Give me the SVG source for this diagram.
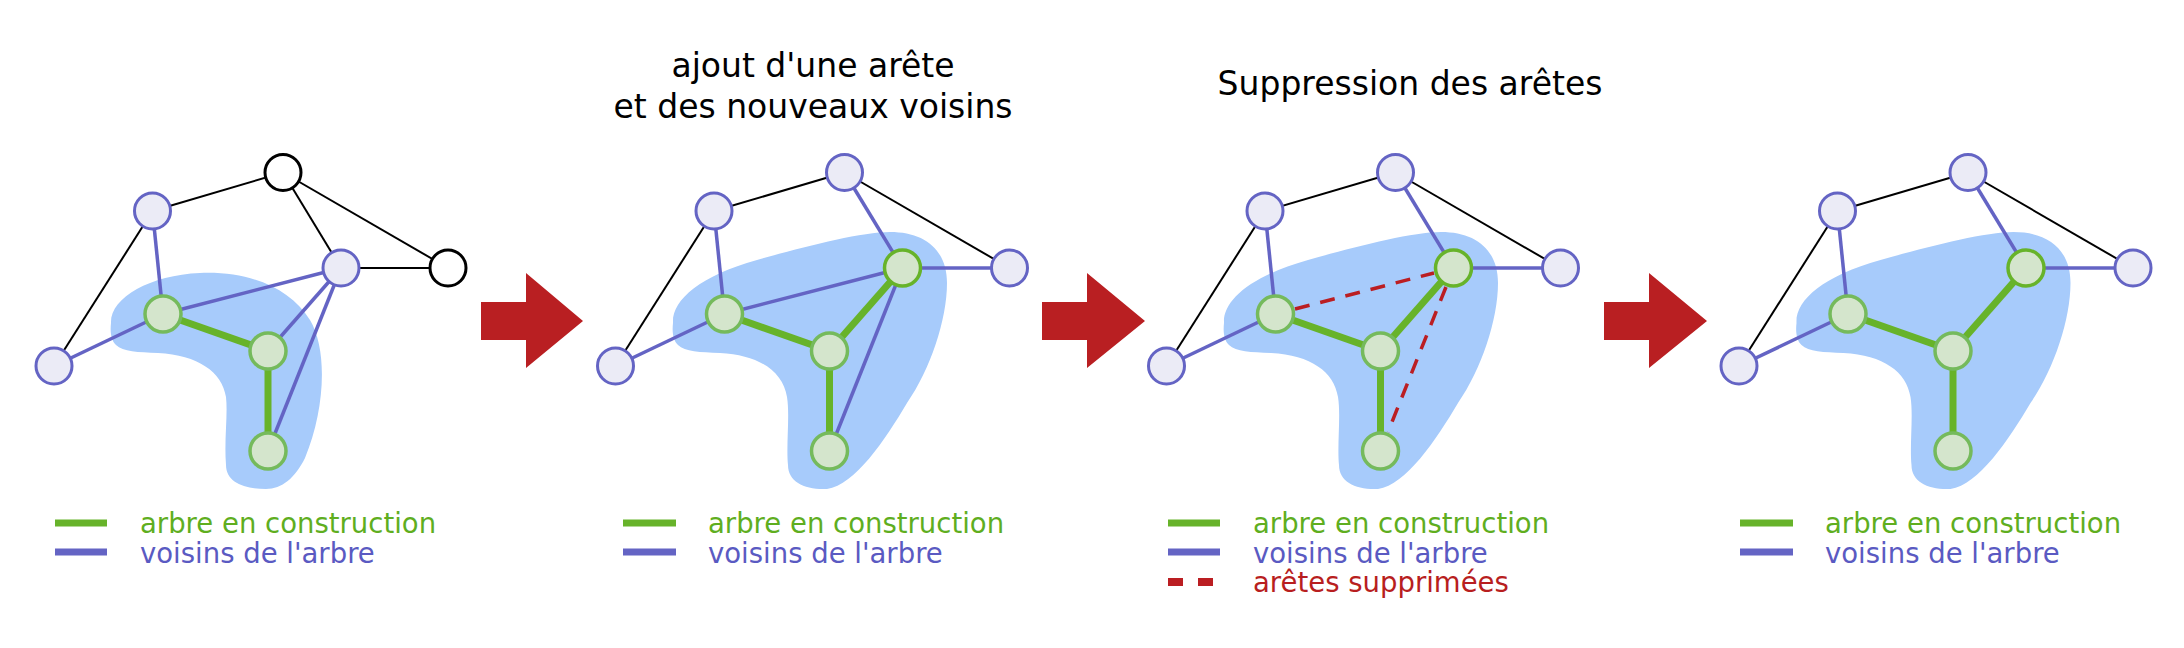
<svg xmlns="http://www.w3.org/2000/svg" width="2184" height="648" viewBox="0 0 2184 648">
<style>
.title{font-family:"DejaVu Sans","Liberation Sans",sans-serif;font-size:33px;fill:#000;text-anchor:middle}
.leg{font-family:"DejaVu Sans","Liberation Sans",sans-serif;font-size:27.5px}
.blob{fill:#a7cbfb}
.bk{stroke:#000;stroke-width:2;fill:none}
.bl{stroke:#6464c4;stroke-width:3.5;fill:none}
.gr{stroke:#67b32a;stroke-width:7;fill:none}
.rd{stroke:#bb1e22;stroke-width:3.5;stroke-dasharray:15 11;fill:none}
.nw{fill:#fff;stroke:#000;stroke-width:3}
.nb{fill:#ebebf6;stroke:#6464c4;stroke-width:3}
.ng{fill:#d4e5cc;stroke:#75ba5c;stroke-width:3.5}
.ngd{fill:#d4e5cc;stroke:#67b32a;stroke-width:3.5}
.arrow{fill:#b91f22}
.tg{fill:#5fae1f}.tb{fill:#5a5ac2}.tr{fill:#b81e20}
.lg{stroke:#67b32a;stroke-width:7}.lb{stroke:#6464c4;stroke-width:7}.lr{stroke:#bb1e22;stroke-width:8;stroke-dasharray:15 15}
</style>
<defs>
<path id="blob1" d="M111,323 C110,298 150,275 200,273 C250,271 290,288 310,320 C328,350 325,410 305,458 C295,478 282,489 266,489 C244,489 226,482 226,465 C224,440 228,415 226,397 C222,372 198,355 158,353 C138,352 123,352 116,345 C111,340 110,332 111,323 Z"/>
<path id="blob2" d="M673,323 C672,300 700,276 757,260 C800,248 860,232 890,232 C925,232 947,250 947,283 C947,320 930,370 907,403 C885,440 855,485 827,489 C805,490 788,482 788,465 C786,445 790,415 787,397 C783,372 760,355 720,353 C700,352 685,352 678,345 C673,340 672,332 673,323 Z"/>
</defs>
<g id="blobs">
<use href="#blob1" class="blob"/>
<use href="#blob2" class="blob"/>
<use href="#blob2" class="blob" transform="translate(551,0)"/>
<use href="#blob2" class="blob" transform="translate(1123.5,0)"/>
</g>
<g id="connectors">
<g id="edges-p1">
<line class="bk" x1="152.5" y1="211" x2="283" y2="172.5"/>
<line class="bk" x1="152.5" y1="211" x2="54" y2="366"/>
<line class="bk" x1="283" y1="172.5" x2="341" y2="268"/>
<line class="bk" x1="283" y1="172.5" x2="448" y2="268"/>
<line class="bk" x1="341" y1="268" x2="448" y2="268"/>
<line class="bl" x1="152.5" y1="211" x2="163" y2="314"/>
<line class="bl" x1="54" y1="366" x2="163" y2="314"/>
<line class="bl" x1="163" y1="314" x2="341" y2="268"/>
<line class="bl" x1="341" y1="268" x2="268" y2="351"/>
<line class="bl" x1="341" y1="268" x2="268" y2="451"/>
<line class="gr" x1="163" y1="314" x2="268" y2="351"/>
<line class="gr" x1="268" y1="351" x2="268" y2="451"/>
</g>
<g id="edges-p2">
<line class="bk" x1="714" y1="211" x2="844.5" y2="172.5"/>
<line class="bk" x1="714" y1="211" x2="615.5" y2="366"/>
<line class="bk" x1="844.5" y1="172.5" x2="1009.5" y2="268"/>
<line class="bl" x1="714" y1="211" x2="724.5" y2="314"/>
<line class="bl" x1="615.5" y1="366" x2="724.5" y2="314"/>
<line class="bl" x1="724.5" y1="314" x2="902.5" y2="268"/>
<line class="bl" x1="844.5" y1="172.5" x2="902.5" y2="268"/>
<line class="bl" x1="902.5" y1="268" x2="1009.5" y2="268"/>
<line class="bl" x1="902.5" y1="268" x2="829.5" y2="451"/>
<line class="gr" x1="724.5" y1="314" x2="829.5" y2="351"/>
<line class="gr" x1="829.5" y1="351" x2="902.5" y2="268"/>
<line class="gr" x1="829.5" y1="351" x2="829.5" y2="451"/>
</g>
<g id="edges-p3">
<line class="bk" x1="1265" y1="211" x2="1395.5" y2="172.5"/>
<line class="bk" x1="1265" y1="211" x2="1166.5" y2="366"/>
<line class="bk" x1="1395.5" y1="172.5" x2="1560.5" y2="268"/>
<line class="bl" x1="1265" y1="211" x2="1275.5" y2="314"/>
<line class="bl" x1="1166.5" y1="366" x2="1275.5" y2="314"/>
<line class="bl" x1="1395.5" y1="172.5" x2="1453.5" y2="268"/>
<line class="bl" x1="1453.5" y1="268" x2="1560.5" y2="268"/>
<line class="rd" x1="1295" y1="309" x2="1434" y2="273"/>
<line class="rd" x1="1446" y1="287" x2="1388" y2="432"/>
<line class="gr" x1="1275.5" y1="314" x2="1380.5" y2="351"/>
<line class="gr" x1="1380.5" y1="351" x2="1453.5" y2="268"/>
<line class="gr" x1="1380.5" y1="351" x2="1380.5" y2="451"/>
</g>
<g id="edges-p4">
<line class="bk" x1="1837.5" y1="211" x2="1968" y2="172.5"/>
<line class="bk" x1="1837.5" y1="211" x2="1739" y2="366"/>
<line class="bk" x1="1968" y1="172.5" x2="2133" y2="268"/>
<line class="bl" x1="1837.5" y1="211" x2="1848" y2="314"/>
<line class="bl" x1="1739" y1="366" x2="1848" y2="314"/>
<line class="bl" x1="1968" y1="172.5" x2="2026" y2="268"/>
<line class="bl" x1="2026" y1="268" x2="2133" y2="268"/>
<line class="gr" x1="1848" y1="314" x2="1953" y2="351"/>
<line class="gr" x1="1953" y1="351" x2="2026" y2="268"/>
<line class="gr" x1="1953" y1="351" x2="1953" y2="451"/>
</g>
</g>
<g id="p1-nodes">
<g id="p1-A"><circle class="nb" cx="152.5" cy="211" r="18"/></g>
<g id="p1-B"><circle class="nw" cx="283" cy="172.5" r="18"/></g>
<g id="p1-C"><circle class="nb" cx="341" cy="268" r="18"/></g>
<g id="p1-D"><circle class="nw" cx="448" cy="268" r="18"/></g>
<g id="p1-E"><circle class="nb" cx="54" cy="366" r="18"/></g>
<g id="p1-F"><circle class="ng" cx="163" cy="314" r="18"/></g>
<g id="p1-G"><circle class="ng" cx="268" cy="351" r="18"/></g>
<g id="p1-H"><circle class="ng" cx="268" cy="451" r="18"/></g>
</g>
<g id="p2-nodes">
<g id="p2-A"><circle class="nb" cx="714" cy="211" r="18"/></g>
<g id="p2-B"><circle class="nb" cx="844.5" cy="172.5" r="18"/></g>
<g id="p2-C"><circle class="ngd" cx="902.5" cy="268" r="18"/></g>
<g id="p2-D"><circle class="nb" cx="1009.5" cy="268" r="18"/></g>
<g id="p2-E"><circle class="nb" cx="615.5" cy="366" r="18"/></g>
<g id="p2-F"><circle class="ng" cx="724.5" cy="314" r="18"/></g>
<g id="p2-G"><circle class="ng" cx="829.5" cy="351" r="18"/></g>
<g id="p2-H"><circle class="ng" cx="829.5" cy="451" r="18"/></g>
</g>
<g id="p3-nodes">
<g id="p3-A"><circle class="nb" cx="1265" cy="211" r="18"/></g>
<g id="p3-B"><circle class="nb" cx="1395.5" cy="172.5" r="18"/></g>
<g id="p3-C"><circle class="ngd" cx="1453.5" cy="268" r="18"/></g>
<g id="p3-D"><circle class="nb" cx="1560.5" cy="268" r="18"/></g>
<g id="p3-E"><circle class="nb" cx="1166.5" cy="366" r="18"/></g>
<g id="p3-F"><circle class="ng" cx="1275.5" cy="314" r="18"/></g>
<g id="p3-G"><circle class="ng" cx="1380.5" cy="351" r="18"/></g>
<g id="p3-H"><circle class="ng" cx="1380.5" cy="451" r="18"/></g>
</g>
<g id="p4-nodes">
<g id="p4-A"><circle class="nb" cx="1837.5" cy="211" r="18"/></g>
<g id="p4-B"><circle class="nb" cx="1968" cy="172.5" r="18"/></g>
<g id="p4-C"><circle class="ngd" cx="2026" cy="268" r="18"/></g>
<g id="p4-D"><circle class="nb" cx="2133" cy="268" r="18"/></g>
<g id="p4-E"><circle class="nb" cx="1739" cy="366" r="18"/></g>
<g id="p4-F"><circle class="ng" cx="1848" cy="314" r="18"/></g>
<g id="p4-G"><circle class="ng" cx="1953" cy="351" r="18"/></g>
<g id="p4-H"><circle class="ng" cx="1953" cy="451" r="18"/></g>
</g>
<g id="arrows">
<polygon id="arrow1" class="arrow" points="481,302 526,302 526,273 583,321 526,368 526,340 481,340"/>
<polygon id="arrow2" class="arrow" points="1042,302 1087,302 1087,273 1145,321 1087,368 1087,340 1042,340"/>
<polygon id="arrow3" class="arrow" points="1604,302 1649,302 1649,273 1707,321 1649,368 1649,340 1604,340"/>
</g>
<g id="titles">
<text class="title" x="813" y="77">ajout d'une arête</text>
<text class="title" x="813" y="118">et des nouveaux voisins</text>
<text class="title" x="1410" y="95">Suppression des arêtes</text>
</g>
<g id="legends">
<line class="lg" x1="55" y1="523" x2="107" y2="523"/>
<line class="lb" x1="55" y1="552" x2="107" y2="552"/>
<text class="leg tg" x="140" y="533">arbre en construction</text>
<text class="leg tb" x="140" y="563">voisins de l'arbre</text>
<line class="lg" x1="623" y1="523" x2="676" y2="523"/>
<line class="lb" x1="623" y1="552" x2="676" y2="552"/>
<text class="leg tg" x="708" y="533">arbre en construction</text>
<text class="leg tb" x="708" y="563">voisins de l'arbre</text>
<line class="lg" x1="1168" y1="523" x2="1220" y2="523"/>
<line class="lb" x1="1168" y1="552" x2="1220" y2="552"/>
<line class="lr" x1="1168" y1="582" x2="1214" y2="582"/>
<text class="leg tg" x="1253" y="533">arbre en construction</text>
<text class="leg tb" x="1253" y="563">voisins de l'arbre</text>
<text class="leg tr" x="1253" y="592">arêtes supprimées</text>
<line class="lg" x1="1740" y1="523" x2="1793" y2="523"/>
<line class="lb" x1="1740" y1="552" x2="1793" y2="552"/>
<text class="leg tg" x="1825" y="533">arbre en construction</text>
<text class="leg tb" x="1825" y="563">voisins de l'arbre</text>
</g>
</svg>
